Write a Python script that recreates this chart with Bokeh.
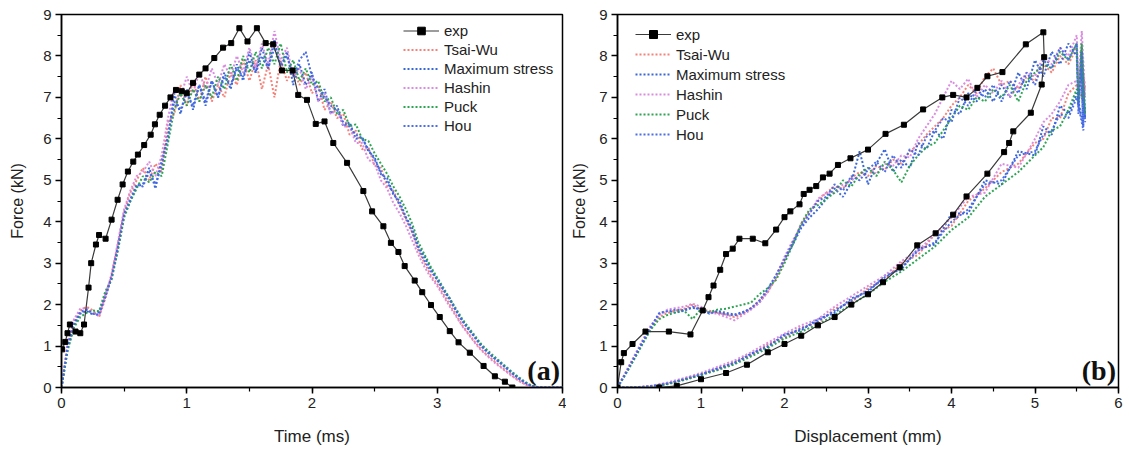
from bokeh.plotting import figure
from bokeh.models import Legend, LegendItem, Label, SingleIntervalTicker, Range1d
from bokeh.layouts import row
from bokeh.embed import file_html
from bokeh.resources import INLINE

# ---------------- data: panel (a) force vs time ----------------
t_a = [0.00, 0.05, 0.10, 0.15, 0.20, 0.25, 0.30, 0.35, 0.40, 0.45,
       0.50, 0.55, 0.60, 0.65, 0.70, 0.75, 0.80, 0.85, 0.90, 0.95,
       1.00, 1.05, 1.10, 1.15, 1.20, 1.25, 1.30, 1.35, 1.40, 1.45,
       1.50, 1.55, 1.60, 1.65, 1.70, 1.75, 1.80, 1.85, 1.90, 1.95,
       2.00, 2.05, 2.10, 2.15, 2.20, 2.25, 2.30, 2.35, 2.40, 2.45,
       2.50, 2.55, 2.60, 2.65, 2.70, 2.75, 2.80, 2.85, 2.90, 2.95,
       3.00, 3.05, 3.10, 3.15, 3.20, 3.25, 3.30, 3.35, 3.40, 3.45,
       3.50, 3.55, 3.60, 3.65, 3.70, 3.75, 3.80, 3.85, 3.90, 3.95, 4.00]

tsaiwu_a = [0, 1.05, 1.6, 1.85, 1.95, 1.86, 1.7, 2.15, 2.75, 3.45,
            4.25, 4.7, 5.0, 5.3, 5.0, 5.4, 5.2, 6.4, 6.6, 7.3,
            6.8, 7.4, 6.9, 7.5, 6.9, 7.3, 7.0, 7.6, 7.3, 7.9,
            7.4, 7.9, 7.2, 7.8, 7.0, 7.9, 7.4, 7.7, 7.3, 7.6,
            7.1, 7.3, 6.7, 6.9, 6.5, 6.6, 6.1, 6.2, 5.75, 5.8,
            5.35, 5.3, 4.85, 4.75, 4.4, 4.05, 3.75, 3.3, 3.0, 2.7,
            2.5, 2.25, 2.0, 1.75, 1.5, 1.3, 1.1, 0.92, 0.78, 0.65,
            0.52, 0.4, 0.28, 0.17, 0.08, 0.02, 0, 0, 0, 0, 0]
maxstress_a = [0, 0.95, 1.5, 1.78, 1.85, 1.76, 1.82, 2.2, 2.65, 3.35,
               4.15, 4.5, 4.85, 4.9, 5.3, 4.8, 5.5, 6.0, 7.1, 6.6,
               7.2, 6.7, 7.3, 6.8, 7.4, 7.0, 7.6, 7.2, 7.8, 7.4,
               8.1, 7.6, 8.2, 7.7, 8.4, 7.7, 8.1, 7.3, 7.8, 7.3,
               7.6, 6.9, 7.2, 6.6, 6.8, 6.3, 6.4, 6.0, 6.05, 5.7,
               5.55, 5.15, 5.05, 4.65, 4.5, 4.1, 3.85, 3.4, 3.15, 2.85,
               2.6, 2.35, 2.15, 1.85, 1.62, 1.4, 1.22, 1.02, 0.86, 0.72,
               0.6, 0.47, 0.34, 0.22, 0.12, 0.04, 0.01, 0, 0, 0, 0]
hashin_a = [0, 1.1, 1.65, 1.9, 1.92, 1.8, 1.72, 2.25, 2.7, 3.5,
            4.3, 4.75, 5.1, 5.2, 5.45, 5.1, 5.6, 6.5, 7.2, 7.0,
            7.5, 7.1, 7.6, 7.2, 7.7, 7.3, 7.8, 7.5, 8.0, 7.6,
            8.2, 7.7, 8.3, 7.8, 8.6, 7.9, 8.2, 7.5, 7.7, 7.2,
            7.5, 6.9, 7.1, 6.6, 6.7, 6.3, 6.3, 5.9, 5.9, 5.5,
            5.4, 5.0, 4.8, 4.45, 4.2, 3.9, 3.55, 3.2, 2.9, 2.65,
            2.45, 2.2, 1.95, 1.72, 1.48, 1.28, 1.08, 0.9, 0.76, 0.62,
            0.5, 0.38, 0.27, 0.16, 0.08, 0.02, 0, 0, 0, 0, 0]
puck_a = [0, 0.9, 1.45, 1.7, 1.8, 1.86, 1.84, 2.32, 2.6, 3.3,
          4.1, 4.5, 4.8, 5.1, 4.95, 5.2, 5.1, 5.9, 6.7, 7.1,
          6.8, 7.2, 6.9, 7.3, 7.0, 7.5, 7.2, 7.8, 7.4, 8.0,
          7.6, 8.1, 7.7, 8.2, 7.8, 8.3, 7.6, 7.9, 7.4, 7.7,
          7.3, 7.4, 6.9, 7.0, 6.6, 6.7, 6.3, 6.35, 6.0, 5.95,
          5.65, 5.4, 5.15, 4.85, 4.6, 4.3, 3.95, 3.5, 3.2, 2.9,
          2.65, 2.4, 2.15, 1.9, 1.65, 1.45, 1.25, 1.05, 0.9, 0.76,
          0.63, 0.5, 0.37, 0.25, 0.14, 0.05, 0.01, 0, 0, 0, 0]
hou_a = [0, 1.0, 1.55, 1.82, 1.88, 1.78, 1.76, 2.18, 2.68, 3.4,
         4.2, 4.55, 4.9, 4.85, 5.2, 4.9, 5.35, 6.1, 6.9, 6.7,
         7.1, 6.8, 7.3, 6.9, 7.4, 7.0, 7.5, 7.3, 7.7, 7.5,
         7.9, 7.6, 8.0, 7.7, 8.2, 7.8, 8.0, 7.5, 7.9, 8.1,
         7.5, 7.2, 7.0, 6.8, 6.7, 6.4, 6.3, 6.1, 6.0, 5.75,
         5.5, 5.2, 4.95, 4.7, 4.4, 4.1, 3.75, 3.35, 3.05, 2.8,
         2.6, 2.35, 2.1, 1.85, 1.6, 1.4, 1.2, 1.0, 0.85, 0.72,
         0.6, 0.47, 0.34, 0.22, 0.12, 0.04, 0.01, 0, 0, 0, 0]

exp_t_a = [0.005, 0.03, 0.048, 0.067, 0.112, 0.15, 0.18, 0.216, 0.237, 0.275,
           0.30, 0.352, 0.40, 0.448, 0.488, 0.53, 0.573, 0.61, 0.66, 0.712,
           0.746, 0.784, 0.827, 0.87, 0.914, 0.96, 1.0, 1.05, 1.10, 1.15,
           1.22, 1.29, 1.355, 1.42, 1.485, 1.56, 1.63, 1.69, 1.76, 1.845,
           1.89, 1.96, 2.03, 2.10, 2.17, 2.28, 2.41, 2.48, 2.57, 2.63,
           2.69, 2.74, 2.82, 2.88, 2.95, 3.02, 3.10, 3.17, 3.26, 3.37,
           3.46, 3.54, 3.60]
exp_f_a = [0.92, 1.1, 1.31, 1.52, 1.35, 1.31, 1.52, 2.41, 3.0, 3.45,
           3.68, 3.59, 4.05, 4.53, 4.90, 5.21, 5.45, 5.62, 5.85, 6.1,
           6.35, 6.58, 6.80, 7.0, 7.18, 7.15, 7.1, 7.35, 7.55, 7.7,
           7.95, 8.2, 8.31, 8.67, 8.35, 8.67, 8.31, 8.28, 7.65, 7.65,
           7.06, 6.94, 6.36, 6.42, 5.9, 5.42, 4.74, 4.25, 3.89, 3.49,
           3.27, 2.93, 2.58, 2.30, 1.99, 1.70, 1.36, 1.09, 0.84, 0.52,
           0.27, 0.14, 0.0]

# ---------------- data: panel (b) force vs displacement ----------------
d_b = [0.0, 0.1, 0.2, 0.3, 0.4, 0.5, 0.6, 0.7, 0.8, 0.9,
       1.0, 1.1, 1.2, 1.3, 1.4, 1.5, 1.6, 1.7, 1.8, 1.9,
       2.0, 2.1, 2.2, 2.3, 2.4, 2.5, 2.6, 2.7, 2.8, 2.9,
       3.0, 3.1, 3.2, 3.3, 3.4, 3.5, 3.6, 3.7, 3.8, 3.9,
       4.0, 4.1, 4.2, 4.3, 4.4, 4.5, 4.6, 4.7, 4.8, 4.9,
       5.0, 5.1, 5.2, 5.3, 5.4, 5.5,
       5.52, 5.56, 5.6, 5.55, 5.58, 5.5,
       5.4, 5.3, 5.2, 5.1, 5.0, 4.8, 4.6, 4.4, 4.2, 4.0,
       3.8, 3.6, 3.4, 3.2, 3.0, 2.8, 2.6, 2.4, 2.2, 2.0,
       1.8, 1.6, 1.4, 1.2, 1.0, 0.8, 0.6, 0.4, 0.2, 0.0]

tsaiwu_b = [0, .36, .74, 1.1, 1.45, 1.7, 1.8, 1.86, 1.9, 2.0,
            1.88, 1.85, 1.8, 1.76, 1.7, 1.78, 1.9, 2.1, 2.3, 2.65,
            3.05, 3.5, 3.95, 4.25, 4.5, 4.7, 4.85, 4.8, 5.05, 5.2,
            5.1, 5.35, 5.25, 5.5, 5.4, 5.7, 5.85, 6.1, 6.3, 6.5,
            6.8, 7.0, 7.3, 7.1, 7.5, 7.7, 7.3, 7.4, 7.2, 7.5,
            7.4, 7.8, 7.6, 8.0, 7.8, 8.2,
            7.0, 8.0, 7.2, 7.8, 6.9, 7.3,
            7.1, 6.5, 6.5, 6.0, 5.9, 5.4, 5.2, 4.8, 4.5, 3.9,
            3.7, 3.2, 3.0, 2.6, 2.4, 2.05, 1.9, 1.55, 1.45, 1.2,
            1.05, 0.78, 0.62, 0.43, 0.33, 0.19, 0.1, 0.03, 0, 0]
maxstress_b = [0, .34, .7, 1.08, 1.44, 1.78, 1.85, 1.8, 1.88, 1.92,
               1.9, 1.78, 1.85, 1.8, 1.76, 1.82, 1.9, 2.05, 2.35, 2.7,
               3.1, 3.45, 3.85, 4.1, 4.3, 4.55, 4.8, 4.6, 4.95, 5.7,
               4.9, 5.4, 5.75, 5.2, 5.5, 5.3, 5.9, 5.75, 6.2, 6.0,
               6.7, 6.6, 7.1, 6.9, 7.2, 6.9, 7.3, 7.0, 7.6, 7.2,
               7.9, 7.5, 8.1, 7.8, 8.3, 8.0,
               6.8, 8.2, 6.5, 7.9, 6.3, 7.1,
               6.6, 6.8, 6.1, 6.3, 5.6, 5.7, 4.9, 5.0, 4.2, 4.2,
               3.45, 3.35, 2.85, 2.7, 2.3, 2.15, 1.8, 1.65, 1.38, 1.28,
               0.98, 0.82, 0.58, 0.47, 0.3, 0.21, 0.09, 0.03, 0, 0]
hashin_b = [0, .38, .76, 1.14, 1.5, 1.75, 1.88, 1.92, 1.95, 2.02,
            1.95, 1.8, 1.78, 1.7, 1.62, 1.75, 1.88, 2.05, 2.3, 2.68,
            3.15, 3.55, 3.9, 4.2, 4.55, 4.7, 4.7, 4.9, 5.0, 5.1,
            5.3, 5.15, 5.4, 5.35, 5.6, 5.55, 6.0, 6.3, 6.6, 7.0,
            7.4, 7.2, 7.45, 7.0, 7.3, 7.1, 7.4, 7.0, 7.3, 7.6,
            7.5, 8.0, 7.8, 8.2, 8.0, 8.5,
            7.2, 8.6, 7.0, 8.1, 7.3, 7.4,
            7.3, 6.9, 6.6, 6.4, 6.0, 5.3, 5.4, 4.7, 4.6, 4.1,
            3.7, 3.3, 3.05, 2.7, 2.45, 2.2, 1.95, 1.65, 1.5, 1.3,
            1.08, 0.85, 0.65, 0.5, 0.35, 0.23, 0.12, 0.04, 0, 0]
puck_b = [0, .33, .68, 1.05, 1.4, 1.65, 1.75, 1.82, 1.85, 1.65,
          1.9, 1.82, 1.88, 1.9, 1.95, 2.0, 2.05, 2.25, 2.4, 2.6,
          3.0, 3.45, 3.95, 4.3, 4.4, 4.55, 4.7, 5.0, 4.85, 5.15,
          5.3, 5.1, 5.45, 5.25, 4.95, 5.35, 5.6, 5.8, 5.9, 6.2,
          6.5, 6.8, 6.7, 7.0, 6.9, 7.2, 7.0, 7.3, 6.9, 7.4,
          7.6, 7.8, 7.7, 8.1, 7.9, 8.3,
          6.9, 8.3, 6.6, 8.1, 7.0, 7.2,
          6.7, 6.3, 6.2, 5.8, 5.6, 5.2, 4.9, 4.6, 4.1, 3.8,
          3.4, 3.1, 2.8, 2.55, 2.25, 2.0, 1.75, 1.52, 1.35, 1.18,
          0.95, 0.75, 0.56, 0.42, 0.3, 0.18, 0.08, 0.02, 0, 0]
hou_b = [0, .35, .72, 1.1, 1.46, 1.8, 1.84, 1.88, 1.85, 1.95,
         1.86, 1.8, 1.82, 1.76, 1.74, 1.8, 1.92, 2.1, 2.38, 2.72,
         3.1, 3.5, 3.9, 4.2, 4.5, 4.6, 4.9, 4.75, 5.1, 5.0,
         5.25, 5.45, 5.2, 5.6, 5.3, 5.75, 5.6, 6.05, 6.2, 6.5,
         6.4, 7.0, 6.8, 7.2, 7.0, 7.3, 6.9, 7.4, 7.1, 7.6,
         7.3, 7.9, 7.7, 8.2, 7.9, 8.3,
         6.6, 8.1, 6.4, 7.7, 6.2, 7.0,
         6.5, 6.6, 6.2, 6.1, 5.7, 5.6, 5.0, 4.9, 4.3, 4.0,
         3.5, 3.3, 2.9, 2.65, 2.35, 2.1, 1.85, 1.6, 1.42, 1.25,
         1.0, 0.8, 0.6, 0.45, 0.32, 0.2, 0.1, 0.03, 0, 0]

exp_d_b = [0.0, 0.044, 0.076, 0.18, 0.335, 0.615, 0.874, 1.02, 1.09, 1.15,
           1.23, 1.30, 1.38, 1.46, 1.62, 1.77, 1.90, 2.0, 2.07, 2.18,
           2.23, 2.30, 2.38, 2.46, 2.54, 2.64, 2.79, 3.0, 3.21, 3.43,
           3.66, 3.89, 4.02, 4.18, 4.31, 4.43, 4.61, 4.89, 5.10, 5.11,
           5.08, 4.95, 4.74, 4.69, 4.63, 4.43, 4.18, 4.02, 3.81, 3.59,
           3.38, 3.18, 3.0, 2.8, 2.6, 2.4, 2.2, 2.0, 1.8, 1.55,
           1.3, 1.0, 0.71, 0.5]
exp_f_b = [0.0, 0.61, 0.83, 1.05, 1.35, 1.35, 1.28, 1.86, 2.18, 2.46,
           2.84, 3.22, 3.35, 3.59, 3.59, 3.48, 3.81, 4.11, 4.25, 4.42,
           4.67, 4.77, 4.86, 5.07, 5.16, 5.37, 5.53, 5.74, 6.12, 6.34,
           6.71, 7.0, 7.06, 7.0, 7.23, 7.51, 7.61, 8.28, 8.57, 7.97,
           7.31, 6.63, 6.18, 5.9, 5.68, 5.16, 4.61, 4.17, 3.72, 3.43,
           2.9, 2.54, 2.25, 2.0, 1.7, 1.5, 1.25, 1.05, 0.85, 0.55,
           0.35, 0.2, 0.04, 0.0]

series_names = ["Tsai-Wu", "Maximum stress", "Hashin", "Puck", "Hou"]
series_colors = ["#F47A72", "#2F5FD6", "#D886DE", "#23A04A", "#4266E6"]

FONT = "Liberation Sans"
TXT = "#222222"


def make_panel(width, left, right, xmax, xlabel, x, sims, ex, ey, tag,
               leg_loc, leg_h, ylab_standoff):
    p = figure(width=width, height=448, output_backend="svg",
               toolbar_location=None,
               x_range=Range1d(0, xmax), y_range=Range1d(0, 9),
               min_border_left=left, min_border_right=right,
               min_border_top=14, min_border_bottom=61)
    p.background_fill_color = "white"
    p.border_fill_color = "white"
    p.outline_line_color = "black"
    p.outline_line_width = 1.5
    p.xgrid.visible = False
    p.ygrid.visible = False
    p.xaxis.ticker = SingleIntervalTicker(interval=1, num_minor_ticks=2)
    p.yaxis.ticker = SingleIntervalTicker(interval=1, num_minor_ticks=2)
    for ax in (p.xaxis[0], p.yaxis[0]):
        ax.axis_line_color = "black"
        ax.axis_line_width = 1.5
        ax.major_tick_line_color = "black"
        ax.minor_tick_line_color = "black"
        ax.major_tick_line_width = 1.5
        ax.minor_tick_line_width = 1.2
        ax.major_tick_in = 0
        ax.major_tick_out = 6
        ax.minor_tick_in = 0
        ax.minor_tick_out = 4
        ax.major_label_text_font = FONT
        ax.major_label_text_font_size = "15px"
        ax.major_label_text_color = TXT
        ax.axis_label_text_font = FONT
        ax.axis_label_text_font_style = "normal"
        ax.axis_label_text_color = TXT
    p.xaxis.axis_label = xlabel
    p.xaxis.axis_label_text_font_size = "17px"
    p.xaxis.major_label_standoff = 4
    p.xaxis.axis_label_standoff = 16
    p.yaxis.axis_label = "Force (kN)"
    p.yaxis.axis_label_text_font_size = "16px"
    p.yaxis.major_label_standoff = 4
    p.yaxis.axis_label_standoff = ylab_standoff

    items = []
    sim_items = []
    for name, col, ys in zip(series_names, series_colors, sims):
        r = p.line(x, ys, line_color=col, line_width=2, line_dash="2 2",
                   line_alpha=0.95)
        sim_items.append(LegendItem(label=name, renderers=[r]))
    rl = p.line(ex, ey, line_color="#3a3a3a", line_width=1.2)
    rs = p.scatter(ex, ey, marker="square", size=5, fill_color="black",
                   line_color="black")
    items.append(LegendItem(label="exp", renderers=[rl, rs]))
    items.extend(sim_items)

    leg = Legend(items=items, location=leg_loc, padding=0, margin=0,
                 spacing=0, label_height=leg_h, glyph_height=leg_h,
                 glyph_width=36, label_standoff=5,
                 label_text_font=FONT, label_text_font_size="15px",
                 label_text_color=TXT,
                 background_fill_alpha=0, border_line_alpha=0)
    p.add_layout(leg)

    lab = Label(x=xmax - 0.005 * xmax, y=0.03, text=tag,
                text_font="Liberation Serif", text_font_style="bold",
                text_font_size="28px", text_color="#111111",
                text_align="right", text_baseline="bottom")
    p.add_layout(lab)
    return p


p1 = make_panel(566, 61, 4, 4, "Time (ms)", t_a,
                [tsaiwu_a, maxstress_a, hashin_a, puck_a, hou_a],
                exp_t_a, exp_f_a, "(a)", (342, 252), 19, 14)
p2 = make_panel(560, 51, 8, 6, "Displacement (mm)", d_b,
                [tsaiwu_b, maxstress_b, hashin_b, puck_b, hou_b],
                exp_d_b, exp_f_b, "(b)", (18, 243), 20, 8)

layout = row(p1, p2)
open("out.html", "w").write(file_html(layout, INLINE))
